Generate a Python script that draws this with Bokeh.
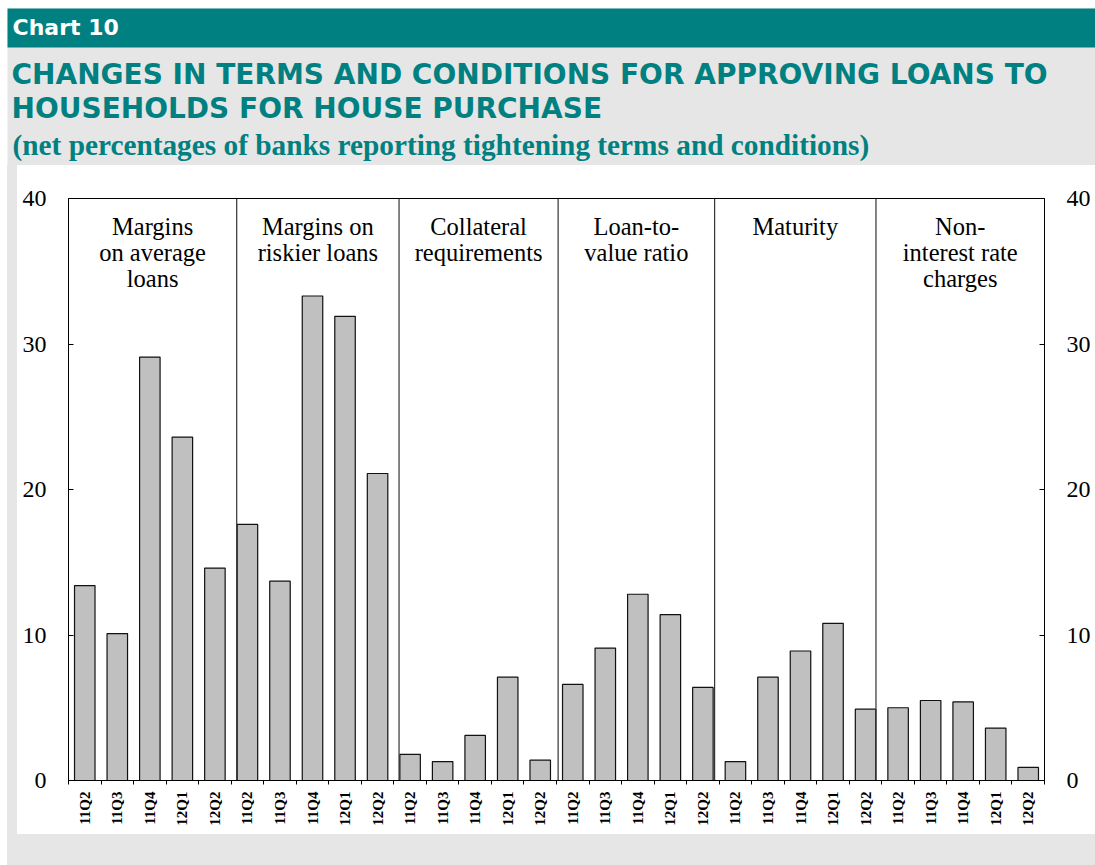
import math
from bokeh.plotting import figure
from bokeh.layouts import row
from bokeh.models import Range1d, LinearAxis, FixedTicker, ColumnDataSource, Spacer
from bokeh.core.properties import value
from bokeh.embed import file_html
from bokeh.resources import INLINE

# ---------------- data ----------------
quarters = ["11Q2", "11Q3", "11Q4", "12Q1", "12Q2"]
group_labels = [
    "Margins\non average\nloans",
    "Margins on\nriskier loans",
    "Collateral\nrequirements",
    "Loan-to-\nvalue ratio",
    "Maturity",
    "Non-\ninterest rate\ncharges",
]
margins_average = [13.4, 10.1, 29.1, 23.6, 14.6]
margins_riskier = [17.6, 13.7, 33.3, 31.9, 21.1]
collateral = [1.8, 1.3, 3.1, 7.1, 1.4]
loan_to_value = [6.6, 9.1, 12.8, 11.4, 6.4]
maturity = [1.3, 7.1, 8.9, 10.8, 4.9]
non_interest = [5.0, 5.5, 5.4, 3.6, 0.9]
separators = [5.17, 10.16, 15.05, 19.86, 24.82]
y_ticks = [0, 10, 20, 30, 40]

series = [margins_average, margins_riskier, collateral, loan_to_value, maturity, non_interest]

TEAL = "#008080"
GRAY = "#e6e6e6"
BAR = "#c0c0c0"

values = [v for s in series for v in s]
labels = [q for s in series for q in quarters]
centers = [i + 0.5 for i in range(len(values))]
n = len(values)

PAGE_W = 1095
HDR_H = 165
CH_W, CH_H = 1078, 669
BOT_H = 31
LEFT_STRIP = PAGE_W - CH_W

# ---------------- header ----------------
hdr = figure(width=PAGE_W, height=HDR_H, x_range=Range1d(0, PAGE_W), y_range=Range1d(HDR_H, 0),
             toolbar_location=None, output_backend="svg", min_border=0,
             x_axis_location=None, y_axis_location=None)
hdr.grid.visible = False
hdr.outline_line_color = None
hdr.background_fill_color = "white"
hdr.border_fill_color = "white"
hdr.quad(left=[7], right=[PAGE_W], top=[8], bottom=[HDR_H], fill_color=GRAY, line_color=None)
hdr.quad(left=[7], right=[PAGE_W], top=[8], bottom=[47], fill_color=TEAL, line_color=None)
hdr.text(x=[12], y=[27], text=["Chart 10"], text_font=value("DejaVu Sans"),
         text_font_style="bold", text_font_size="22px", text_color="white",
         text_baseline="alphabetic")
hdr.text(x=[11, 11], y=[73.5, 107.5],
         text=["CHANGES IN TERMS AND CONDITIONS FOR APPROVING LOANS TO",
               "HOUSEHOLDS FOR HOUSE PURCHASE"],
         text_font=value("DejaVu Sans"), text_font_style="bold", text_font_size="28px",
         text_color=TEAL, text_baseline="alphabetic")
hdr.text(x=[12], y=[144],
         text=["(net percentages of banks reporting tightening terms and conditions)"],
         text_font=value("Liberation Serif"), text_font_style="bold", text_font_size="29.3px",
         text_color=TEAL, text_baseline="alphabetic")

# ---------------- chart ----------------
BL, BR, BT, BB = 51, 51, 33, 54
FH = CH_H - BT - BB
YMAX = 40

p = figure(width=CH_W, height=CH_H, x_range=Range1d(0, n), y_range=Range1d(0, YMAX),
           toolbar_location=None, output_backend="svg",
           min_border_left=BL, min_border_right=BR, min_border_top=BT, min_border_bottom=BB)
p.grid.visible = False
p.background_fill_color = "white"
p.border_fill_color = "white"
p.outline_line_color = "black"
p.outline_line_width = 1

src = ColumnDataSource(dict(x=centers, top=values, lab=labels))
p.vbar(x="x", top="top", width=0.63, bottom=0, source=src,
       fill_color=BAR, line_color="#111111", line_width=1.2)

p.segment(x0=separators, y0=[0] * len(separators), x1=separators, y1=[YMAX] * len(separators),
          line_color="#333333", line_width=1.2)

bounds = [0] + separators + [n]
label_x = [(bounds[i] + bounds[i + 1]) / 2 for i in range(len(group_labels))]
top_y = YMAX - 14 / (FH / YMAX)
p.text(x=label_x, y=[top_y] * len(label_x), text=group_labels,
       text_align="center", text_baseline="top",
       text_font=value("Liberation Serif"), text_font_size="24.5px",
       text_color="black", text_line_height=0.97)

right_axis = LinearAxis()
p.add_layout(right_axis, "right")
for ax in [p.yaxis[0], right_axis]:
    ax.ticker = FixedTicker(ticks=y_ticks, minor_ticks=[])
    ax.major_tick_in = 5
    ax.major_tick_out = 0
    ax.minor_tick_in = 0
    ax.minor_tick_out = 0
    ax.major_tick_line_color = "black"
    ax.axis_line_color = "black"
    ax.major_label_text_font = "Liberation Serif"
    ax.major_label_text_font_size = "24px"
    ax.major_label_text_color = "black"
    ax.major_label_standoff = 22

xa = p.xaxis[0]
xa.ticker = FixedTicker(ticks=centers, minor_ticks=list(range(n + 1)))
xa.major_label_overrides = {c: l for c, l in zip(centers, labels)}
xa.major_label_orientation = math.pi / 2
xa.major_tick_line_color = None
xa.major_tick_in = 0
xa.major_tick_out = 4
xa.minor_tick_in = 0
xa.minor_tick_out = 4
xa.minor_tick_line_color = "black"
xa.axis_line_color = "black"
xa.major_label_text_font = "Liberation Serif"
xa.major_label_text_font_style = "bold"
xa.major_label_text_font_size = "15px"
xa.major_label_text_color = "black"
xa.major_label_standoff = 7

strip_style = {"background-color": GRAY, "border-left": "7px solid white", "box-sizing": "border-box"}
left_strip = Spacer(width=LEFT_STRIP, height=CH_H, styles=strip_style)
middle = row(left_strip, p, spacing=0)
bottom = Spacer(width=PAGE_W, height=BOT_H, styles=strip_style)

open("out.html", "w").write(file_html([hdr, middle, bottom], INLINE))
